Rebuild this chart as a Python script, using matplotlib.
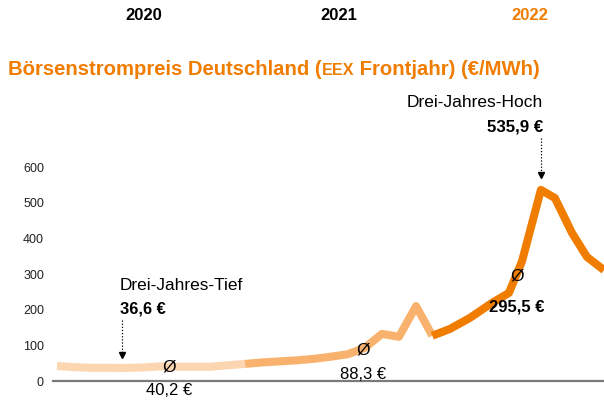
import matplotlib
matplotlib.use("Agg")
import matplotlib.pyplot as plt

# Data (month index since Jan 2020, EUR/MWh)
x_2020 = [0, 1, 2, 3, 4, 5, 6, 7, 8, 9, 10, 11]
y_2020 = [42, 39, 37, 37, 36.6, 38, 41, 40, 40, 40, 44, 48]
x_2021 = [11, 12, 13, 14, 15, 16, 17, 18, 19, 20, 21, 21.95]
y_2021 = [48, 52, 55, 58, 62, 68, 75, 93, 132, 124, 210, 127]
x_2022 = [21.95, 22.98, 24.15, 25.44, 26.43, 27.19, 28.3, 29.12, 30.12, 30.99, 31.99]
y_2022 = [127, 146, 177, 219, 247, 335, 535.9, 513, 415, 348, 311]

years = ["2020", "2021", "2022"]
year_centers = [5.06, 16.5, 27.65]
avg_x = [6.55, 17.89, 26.9]
avg_values = [40.2, 88.3, 295.5]
avg_labels = ["40,2 €", "88,3 €", "295,5 €"]
yticks = [0, 100, 200, 300, 400, 500, 600]

c2020 = "#fcd6b0"
c2021 = "#f9b26e"
c2022 = "#f07c00"
orange = "#f07c00"

plt.rcParams["font.family"] = ["Liberation Sans", "DejaVu Sans"]

fig = plt.figure(figsize=(6.04, 4.01), dpi=100)
ax = fig.add_axes([53 / 604, 20 / 401, 551 / 604, 301 / 401])
ax.set_xlim(-0.234, 31.99)
ax.set_ylim(0, 844)

lw = 5.8
for xs, ys, col in [(x_2020, y_2020, c2020), (x_2021, y_2021, c2021), (x_2022, y_2022, c2022)]:
    ax.plot(xs, ys, color=col, lw=lw, solid_joinstyle="round", solid_capstyle="butt", zorder=2)

# averages
for i in range(3):
    ax.text(avg_x[i], avg_values[i], "Ø", ha="center", va="center", fontsize=12.5,
            color="black", zorder=4)
ax.text(avg_x[0], -28, avg_labels[0], ha="center", va="center", fontsize=12, clip_on=False)
ax.text(avg_x[1], 18, avg_labels[1], ha="center", va="center", fontsize=12)
ax.text(avg_x[2], 207, avg_labels[2], ha="center", va="center", fontsize=12, fontweight="bold")

# low / high annotations
ax.text(3.68, 269, "Drei-Jahres-Tief", ha="left", va="center", fontsize=12.4)
ax.text(3.68, 202, "36,6 €", ha="left", va="center", fontsize=11.8, fontweight="bold")
ax.plot([3.8, 3.8], [171, 78], color="black", lw=0.9, ls=(0, (1, 1.5)))
ax.plot([3.8], [72], marker="v", color="black", markersize=4)

ax.text(28.42, 782, "Drei-Jahres-Hoch", ha="right", va="center", fontsize=12.5)
ax.text(28.42, 712, "535,9 €", ha="right", va="center", fontsize=12.2, fontweight="bold")
ax.plot([28.3, 28.3], [681, 585], color="black", lw=0.9, ls=(0, (1, 1.5)))
ax.plot([28.3], [578], marker="v", color="black", markersize=4)

# axes styling
for s in ["top", "right", "left"]:
    ax.spines[s].set_visible(False)
ax.spines["bottom"].set_color("#7a7a7a")
ax.spines["bottom"].set_linewidth(1.6)
ax.set_xticks([])
ax.set_yticks(yticks)
ax.set_yticklabels([str(t) for t in yticks])
ax.tick_params(axis="y", length=0, pad=6.5, labelsize=9, labelcolor="#222222")

# year headers
for i, yr in enumerate(years):
    col = orange if yr == "2022" else "black"
    fig.text((53 + (year_centers[i] + 0.234) * 17.1) / 604, 1 - 16 / 401, yr,
             ha="center", va="center", fontsize=12, fontweight="bold", color=col)

# title with small caps "EEX"
renderer = fig.canvas.get_renderer()
parts = [("Börsenstrompreis Deutschland (", 14.6), ("EEX", 11.6), (" Frontjahr) (€/MWh)", 14.6)]
xpos = 8 / 604
for txt, fs in parts:
    t = fig.text(xpos, 1 - 75 / 401, txt, ha="left", va="baseline", fontsize=fs,
                 fontweight="bold", color=orange)
    bb = t.get_window_extent(renderer)
    xpos = bb.x1 / fig.bbox.width

fig.savefig("out.png", dpi=100)
